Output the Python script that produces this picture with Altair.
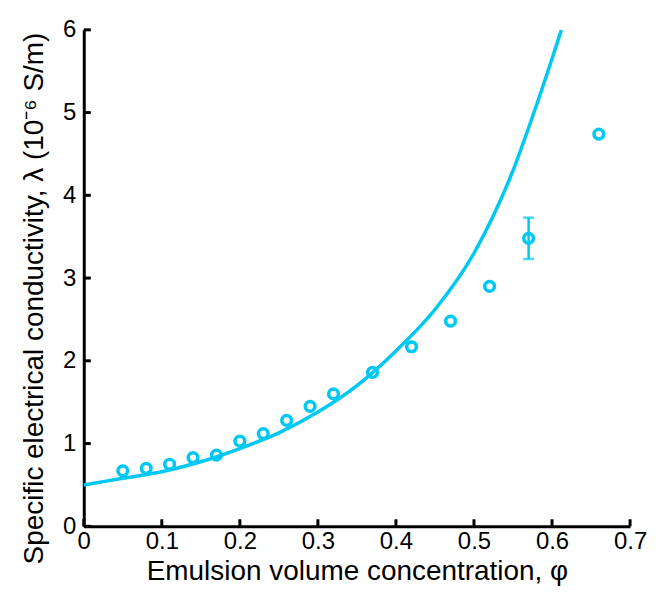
import altair as alt
import pandas as pd

# measured points
phi = [0.05, 0.08, 0.11, 0.14, 0.17, 0.20, 0.23, 0.26, 0.29, 0.32, 0.37, 0.42, 0.47, 0.52, 0.57, 0.66]
lam = [0.67, 0.70, 0.75, 0.83, 0.86, 1.03, 1.12, 1.28, 1.45, 1.60, 1.86, 2.17, 2.48, 2.90, 3.48, 4.74]

# error bar
err_phi = [0.57]
err_lo = [3.23]
err_hi = [3.73]

# model curve
curve_phi = [0.0, 0.05, 0.10, 0.15, 0.20, 0.25, 0.30, 0.35, 0.40, 0.45, 0.50, 0.55, 0.575, 0.60, 0.612]
curve_lam = [0.50, 0.58, 0.66, 0.78, 0.94, 1.13, 1.38, 1.70, 2.12, 2.62, 3.30, 4.30, 4.95, 5.65, 6.00]

# axis ticks
x_ticks = [0.0, 0.1, 0.2, 0.3, 0.4, 0.5, 0.6, 0.7]
y_ticks = [0, 1, 2, 3, 4, 5, 6]

COLOR = "#00C8F5"
FONT = "Liberation Sans"

pts = pd.DataFrame({"phi": phi, "lam": lam})
err = pd.DataFrame({"phi": err_phi, "lo": err_lo, "hi": err_hi})
cur = pd.DataFrame({"phi": curve_phi, "lam": curve_lam})
xt = pd.DataFrame({"x": x_ticks, "y0": [0] * len(x_ticks), "y1": [0.085] * len(x_ticks)})
yt = pd.DataFrame({"y": y_ticks, "x0": [0] * len(y_ticks), "x1": [0.009] * len(y_ticks)})

xscale = alt.Scale(domain=[0, 0.7], nice=False, zero=False)
yscale = alt.Scale(domain=[0, 6], nice=False, zero=False)

xaxis = alt.Axis(
    title="Emulsion volume concentration, φ",
    values=x_ticks, format=".1~f", ticks=False, tickSize=0, grid=False,
    labelPadding=3, labelFontSize=24, labelFont=FONT, labelColor="black",
    titleFontSize=28, titleFont=FONT, titleFontWeight="normal", titleColor="black",
    titlePadding=4, domainColor="black", domainWidth=3, labelFlush=False,
)
yaxis = alt.Axis(
    title="Specific electrical conductivity, λ (10⁻⁶ S/m)",
    values=y_ticks, format="d", ticks=False, tickSize=0, grid=False,
    labelPadding=8, labelFontSize=24, labelFont=FONT, labelColor="black",
    titleFontSize=28, titleFont=FONT, titleFontWeight="normal", titleColor="black",
    titleX=-49, titleY=269, titleBaseline="middle", titleAngle=270,
    domainColor="black", domainWidth=3, labelFlush=False,
)

line = alt.Chart(cur).mark_line(color=COLOR, strokeWidth=3.5, interpolate="monotone", clip=True).encode(
    x=alt.X("phi:Q", scale=xscale, axis=xaxis),
    y=alt.Y("lam:Q", scale=yscale, axis=yaxis),
)

points = alt.Chart(pts).mark_point(shape="circle", filled=False, color=COLOR, size=95, strokeWidth=3.5, opacity=1).encode(
    x=alt.X("phi:Q", scale=xscale),
    y=alt.Y("lam:Q", scale=yscale),
)

ebar = alt.Chart(err).mark_rule(color=COLOR, strokeWidth=2.5).encode(
    x=alt.X("phi:Q", scale=xscale),
    y=alt.Y("lo:Q", scale=yscale),
    y2="hi:Q",
)
cap_lo = alt.Chart(err).mark_tick(color=COLOR, orient="horizontal", size=11, thickness=2.5).encode(
    x=alt.X("phi:Q", scale=xscale),
    y=alt.Y("lo:Q", scale=yscale),
)
cap_hi = alt.Chart(err).mark_tick(color=COLOR, orient="horizontal", size=11, thickness=2.5).encode(
    x=alt.X("phi:Q", scale=xscale),
    y=alt.Y("hi:Q", scale=yscale),
)

xtick_marks = alt.Chart(xt).mark_rule(color="black", strokeWidth=3).encode(
    x=alt.X("x:Q", scale=xscale),
    y=alt.Y("y0:Q", scale=yscale),
    y2="y1:Q",
)
ytick_marks = alt.Chart(yt).mark_rule(color="black", strokeWidth=3).encode(
    y=alt.Y("y:Q", scale=yscale),
    x=alt.X("x0:Q", scale=xscale),
    x2="x1:Q",
)

chart = alt.layer(line, ebar, cap_lo, cap_hi, points, xtick_marks, ytick_marks).properties(
    width=548, height=498,
    padding={"left": 76, "top": 21, "right": 20, "bottom": 64},
    autosize=alt.AutoSizeParams(type="none"),
    background="white",
).configure_view(stroke=None)

chart.save("out.html", embed_options={"renderer": "svg", "actions": False})
